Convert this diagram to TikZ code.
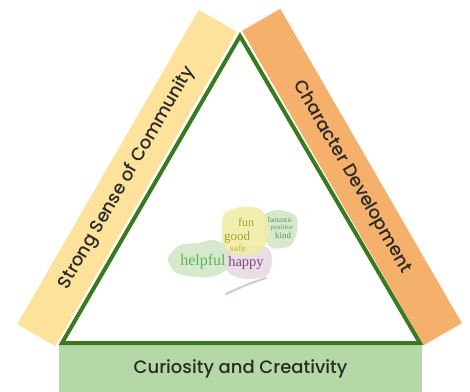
\documentclass[tikz,border=0pt]{standalone}
\usepackage{fontspec}
\setmainfont{Poppins}[UprightFont={* Medium}]
\newfontfamily\cloudfont{Liberation Serif}
\usepackage{tikz}
\definecolor{barYellow}{HTML}{FCE29A}
\definecolor{barOrange}{HTML}{F5B06C}
\definecolor{barGreen}{HTML}{B5D8A7}
\definecolor{edgeGreen}{HTML}{3A7A1E}
\definecolor{labelGray}{HTML}{2A2A2A}
\definecolor{cloudYellow}{HTML}{F1ECA6}
\definecolor{cloudGreen}{HTML}{D3E7C8}
\definecolor{cloudPink}{HTML}{E8DAE3}

\begin{document}
\begin{tikzpicture}[x=1pt,y=-1pt,
  bar/.style={minimum width=363pt,minimum height=44pt,inner sep=0pt,
    font=\fontsize{18}{18}\selectfont,text=labelGray},
  blob/.style={opacity=0.9},
  word/.style={inner sep=0pt,font=\cloudfont}]
\useasboundingbox (0,0) rectangle (470,391);

            \node[bar,fill=barYellow,rotate=60] (community) at (127,178) {Strong Sense of Community};

            \node[bar,fill=barOrange,rotate=-60] (character) at (352,177) {Character Development};

            \node[bar,fill=barGreen,minimum width=363pt,minimum height=47pt] (curiosity) at (240.5,368.5) {Curiosity and Creativity};

            \coordinate (top) at (240,36);
            \coordinate (bl) at (62,343);
            \coordinate (br) at (420,343);
            \draw[edgeGreen,line width=4pt,line join=miter] (top) -- (bl) -- (br) -- cycle;

            \fill[blob,cloudGreen] plot[smooth cycle] coordinates {(168,258) (180,245) (198,243) (214,240) (228,248) (230,266) (215,276) (195,277) (175,272)};
            \fill[blob,cloudGreen] plot[smooth cycle] coordinates {(264,215) (280,210) (296,216) (297,232) (290,246) (272,248) (264,235)};
            \fill[blob,cloudPink] plot[smooth cycle] coordinates {(226,250) (248,246) (268,248) (272,262) (266,276) (245,279) (228,272)};
            \fill[blob,cloudYellow] plot[smooth cycle] coordinates {(224,214) (240,207) (260,209) (268,222) (267,242) (256,254) (235,255) (223,244) (222,228)};
            \draw[cloudPink!80!gray,line width=2pt,line cap=round] (266,278) .. controls (248,284) .. (226,294);

            \node[word,text=olive!75,font=\cloudfont\fontsize{12}{12}\selectfont] (fun) at (246,222) {fun};
            \node[word,text=olive!75,font=\cloudfont\fontsize{13}{13}\selectfont] (good) at (237,237) {good};
            \node[word,text=olive!60,font=\cloudfont\fontsize{10}{10}\selectfont] (safe) at (238,248) {safe};
            \node[word,text=green!55!black!65,font=\cloudfont\fontsize{16}{16}\selectfont] (helpful) at (203,262) {helpful};
            \node[word,text=violet!45!gray,font=\cloudfont\fontsize{14.5}{14.5}\selectfont] (happy) at (246,263) {happy};
            \node[word,text=green!40!black!65,font=\cloudfont\fontsize{7.5}{7.5}\selectfont] (fantastic) at (280,220) {fantastic};
            \node[word,text=green!40!black!65,font=\cloudfont\fontsize{7}{7}\selectfont] (positive) at (282,228) {positive};
            \node[word,text=green!40!black!65,font=\cloudfont\fontsize{9}{9}\selectfont] (kind) at (283,235) {kind};
\end{tikzpicture}
\end{document}
